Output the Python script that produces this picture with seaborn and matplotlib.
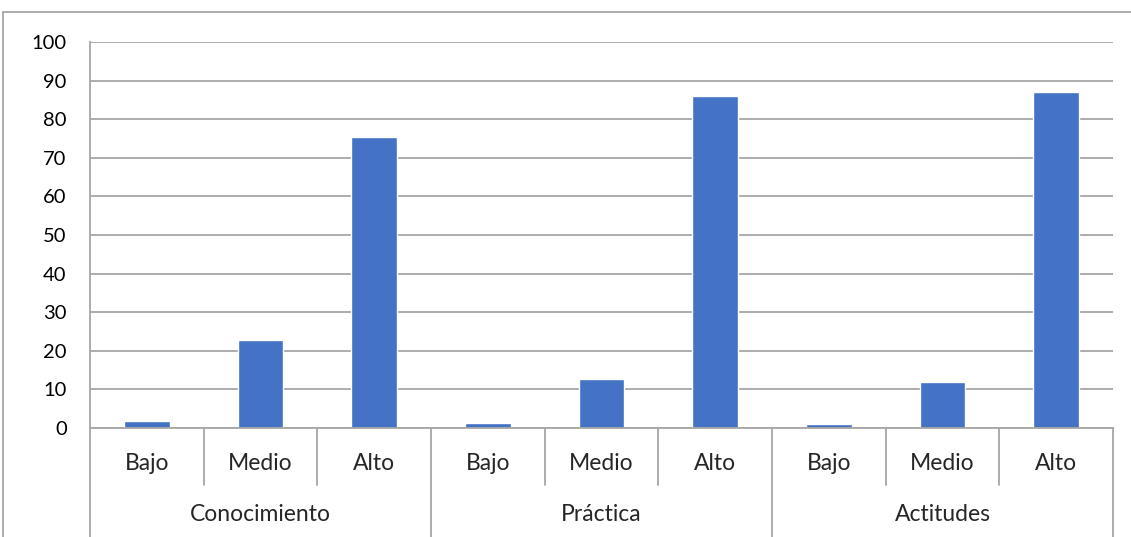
import pandas as pd
import matplotlib.pyplot as plt
import seaborn as sns
from matplotlib.lines import Line2D
from matplotlib.transforms import blended_transform_factory

# ------------------------
# Datos
# ------------------------
grupos = ["Conocimiento", "Práctica", "Actitudes"]
niveles = ["Bajo", "Medio", "Alto"]
conocimiento = [1.9, 22.7, 75.5]
practica = [1.2, 12.8, 86.0]
actitudes = [1.0, 12.0, 87.0]

valores = conocimiento + practica + actitudes
df = pd.DataFrame({
    "grupo": [g for g in grupos for _ in niveles],
    "nivel": niveles * len(grupos),
    "valor": valores,
})
df["clave"] = df["grupo"] + "-" + df["nivel"]

# ------------------------
# Figura
# ------------------------
sns.set_style("white")
plt.rcParams["font.family"] = ["Lato", "DejaVu Sans"]

gris = "#a6a6a6"
fig = plt.figure(figsize=(11.31, 5.37), dpi=100)
ax = fig.add_axes([90 / 1131, 1 - 427.9 / 537, 1023 / 1131, 385.9 / 537])

sns.barplot(data=df, x="clave", y="valor", order=list(df["clave"]),
            color="#4472C4", width=0.4, saturation=1, ax=ax)

ax.set_ylim(0, 100)
ax.set_xlim(-0.5, len(df) - 0.5)
ax.set_yticks(range(0, 101, 10))
ax.yaxis.grid(True, color=gris, linewidth=1.3)
ax.set_axisbelow(True)
ax.set_xlabel("")
ax.set_ylabel("")
ax.set_xticks([])
ax.tick_params(axis="y", length=5.8, width=1.2, color=gris, pad=11,
               labelsize=14.5, labelcolor="black")

for lado in ["top", "right"]:
    ax.spines[lado].set_visible(False)
for lado in ["left", "bottom"]:
    ax.spines[lado].set_color(gris)
    ax.spines[lado].set_linewidth(1.3)

# Etiquetas de categoría en dos niveles
trans = blended_transform_factory(ax.transData, ax.transAxes)
for i, fila in df.iterrows():
    ax.text(i, -0.091, fila["nivel"], transform=trans, ha="center",
            va="center", fontsize=16.5)
for j, g in enumerate(grupos):
    ax.text(j * 3 + 1, -0.2257, g, transform=trans, ha="center",
            va="center", fontsize=16.5)

for k in range(len(df) + 1):
    x = k - 0.5
    fondo = -0.3 if k % 3 == 0 else -0.147
    ax.plot([x, x], [0, fondo], transform=trans, color=gris,
            linewidth=1.3, clip_on=False)

# Marco exterior del gráfico
fig.add_artist(Line2D([3 / 1131, 1], [1 - 12 / 537, 1 - 12 / 537],
                      color=gris, linewidth=1.3))
fig.add_artist(Line2D([3 / 1131, 3 / 1131], [0, 1 - 12 / 537],
                      color=gris, linewidth=1.3))

fig.savefig("out.png", dpi=100, facecolor="white")
